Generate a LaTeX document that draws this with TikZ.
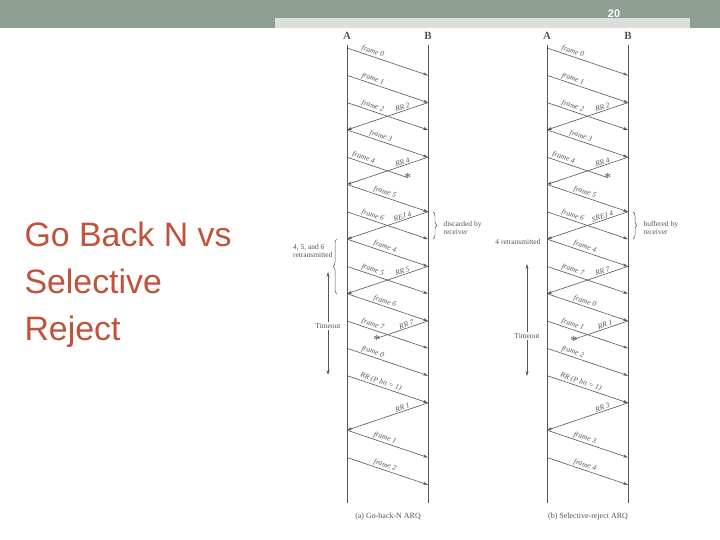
\documentclass[tikz,border=0pt]{standalone}
\usepackage{fontspec}
\setmainfont{Liberation Serif}
\newfontfamily\slidefont{Liberation Sans}
\usetikzlibrary{arrows.meta,decorations.pathreplacing,calc}
\definecolor{bar}{HTML}{8E9E92}
\definecolor{strip}{HTML}{DCE0DC}
\definecolor{ttl}{HTML}{C0533A}
\definecolor{ink}{HTML}{555555}
\tikzset{
  msg/.style={draw=ink,line width=0.6pt,-{Stealth[length=5pt,width=3pt]}},
  lost/.style={draw=ink,line width=0.6pt},
  lbl/.style={font=\fontsize{7.5}{8}\selectfont\itshape,text=ink,inner sep=1pt,sloped,above},
  ttext/.style={font=\fontsize{7.5}{8.5}\selectfont,text=ink,align=left},
  life/.style={draw=ink,line width=0.7pt},
  star/.style={font=\fontsize{14}{14}\selectfont,text=ink,inner sep=0pt},
  brc/.style={draw=ink,line width=0.5pt,decorate,decoration={brace,amplitude=4pt}},
  tarrow/.style={draw=ink,line width=0.6pt,{Stealth[length=5pt,width=3pt]}-{Stealth[length=5pt,width=3pt]}}
}
\begin{document}
\begin{tikzpicture}[x=1bp,y=-1bp]
\useasboundingbox (0,0) rectangle (720,540);
\fill[white] (0,0) rectangle (720,540);
\fill[bar] (0,0) rectangle (720,28);
\fill[strip] (275,18) rectangle (690,28);
\node[text=white,font=\slidefont\bfseries\fontsize{11}{12}\selectfont] (pg) at (614,14) {20};
\node[anchor=west,text=ttl,font=\slidefont\fontsize{34}{47}\selectfont,align=left] (title) at (21,285) {Go Back N vs\\Selective\\Reject};
% lifelines and slot coordinates
\foreach \p/\ax/\bx in {L/347/428,R/547/628}{
  \foreach \k in {0,...,16}{
    \coordinate (\p A\k) at (\ax,{48+27.3*\k});
    \coordinate (\p B\k) at (\bx,{48+27.3*\k});
  }
  \coordinate (\p At) at (\ax,45);
  \coordinate (\p Ae) at (\ax,503);
  \coordinate (\p Bt) at (\bx,45);
  \coordinate (\p Be) at (\bx,503);
  \draw[life] (\p At) -- (\p Ae);
  \draw[life] (\p Bt) -- (\p Be);
  \node[font=\bfseries\fontsize{11}{12}\selectfont,text=ink] (\p Alab) at (\ax,36) {A};
  \node[font=\bfseries\fontsize{11}{12}\selectfont,text=ink] (\p Blab) at (\bx,36) {B};
}
% ---------- left: Go-back-N ----------
\draw[msg] (LA0) -- (LB1) node[lbl,pos=0.3]{frame 0};
\draw[msg] (LA1) -- (LB2) node[lbl,pos=0.3]{frame 1};
\draw[msg] (LA2) -- (LB3) node[lbl,pos=0.3]{frame 2};
\draw[msg] (LB2) -- (LA3) node[lbl,pos=0.3]{RR 2};
\draw[msg] (LA3) -- (LB4) node[lbl,pos=0.4]{frame 3};
\coordinate (Ls1) at ($(LA4)!0.75!(LB5)$);
\draw[lost] (LA4) -- (Ls1) node[lbl,pos=0.25]{frame 4};
\node[star] (Lst1) at (Ls1) {*};
\draw[msg] (LB4) -- (LA5) node[lbl,pos=0.3]{RR 4};
\draw[msg] (LA5) -- (LB6) node[lbl,pos=0.45]{frame 5};
\draw[msg] (LA6) -- (LB7) node[lbl,pos=0.3]{frame 6};
\draw[msg] (LB6) -- (LA7) node[lbl,pos=0.3]{REJ 4};
\draw[msg] (LA7) -- (LB8) node[lbl,pos=0.45]{frame 4};
\draw[msg] (LA8) -- (LB9) node[lbl,pos=0.3]{frame 5};
\draw[msg] (LB8) -- (LA9) node[lbl,pos=0.3]{RR 5};
\draw[msg] (LA9) -- (LB10) node[lbl,pos=0.45]{frame 6};
\draw[msg] (LA10) -- (LB11) node[lbl,pos=0.3]{frame 7};
\coordinate (Ls2) at ($(LB10)!0.63!(LA11)$);
\draw[lost] (LB10) -- (Ls2) node[lbl,pos=0.4]{RR 7};
\node[star] (Lst2) at ($(Ls2)+(0,2)$) {*};
\draw[msg] (LA11) -- (LB12) node[lbl,pos=0.3]{frame 0};
\draw[msg] (LA12) -- (LB13) node[lbl,pos=0.4]{RR (P bit = 1)};
\draw[msg] (LB13) -- (LA14) node[lbl,pos=0.3]{RR 1};
\draw[msg] (LA14) -- (LB15) node[lbl,pos=0.45]{frame 1};
\draw[msg] (LA15) -- (LB16) node[lbl,pos=0.45]{frame 2};
\draw[brc] ($(LB6)+(5,0)$) coordinate (Lb1) -- ($(LB7)+(5,0)$) coordinate (Lb2);
\node[ttext,anchor=west] (Ldisc) at (440,228) {discarded by\\receiver};
\draw[brc] ($(LA9)+(-10,0)$) coordinate (Lb3) -- ($(LA7)+(-10,0)$) coordinate (Lb4);
\node[ttext,anchor=east,align=left] (Lret) at (336,251) {4, 5, and 6\\retransmitted};
\coordinate (Lt1) at (328,272);
\coordinate (Lt2) at (328,375);
\draw[tarrow] (Lt1) -- (Lt2);
\node[ttext,fill=white,inner sep=1pt] (Lto) at (328,326) {Timeout};
\node[font=\fontsize{8}{9}\selectfont,text=ink] (Lcap) at (388,517) {(a) Go-back-N ARQ};
% ---------- right: Selective reject ----------
\draw[msg] (RA0) -- (RB1) node[lbl,pos=0.3]{frame 0};
\draw[msg] (RA1) -- (RB2) node[lbl,pos=0.3]{frame 1};
\draw[msg] (RA2) -- (RB3) node[lbl,pos=0.3]{frame 2};
\draw[msg] (RB2) -- (RA3) node[lbl,pos=0.3]{RR 2};
\draw[msg] (RA3) -- (RB4) node[lbl,pos=0.4]{frame 3};
\coordinate (Rs1) at ($(RA4)!0.75!(RB5)$);
\draw[lost] (RA4) -- (Rs1) node[lbl,pos=0.25]{frame 4};
\node[star] (Rst1) at (Rs1) {*};
\draw[msg] (RB4) -- (RA5) node[lbl,pos=0.3]{RR 4};
\draw[msg] (RA5) -- (RB6) node[lbl,pos=0.45]{frame 5};
\draw[msg] (RA6) -- (RB7) node[lbl,pos=0.3]{frame 6};
\draw[msg] (RB6) -- (RA7) node[lbl,pos=0.3]{SREJ 4};
\draw[msg] (RA7) -- (RB8) node[lbl,pos=0.45]{frame 4};
\draw[msg] (RA8) -- (RB9) node[lbl,pos=0.3]{frame 7};
\draw[msg] (RB8) -- (RA9) node[lbl,pos=0.3]{RR 7};
\draw[msg] (RA9) -- (RB10) node[lbl,pos=0.45]{frame 0};
\draw[msg] (RA10) -- (RB11) node[lbl,pos=0.3]{frame 1};
\coordinate (Rs2) at ($(RB10)!0.67!(RA11)$);
\draw[lost] (RB10) -- (Rs2) node[lbl,pos=0.4]{RR 1};
\node[star] (Rst2) at ($(Rs2)+(0,2)$) {*};
\draw[msg] (RA11) -- (RB12) node[lbl,pos=0.3]{frame 2};
\draw[msg] (RA12) -- (RB13) node[lbl,pos=0.4]{RR (P bit = 1)};
\draw[msg] (RB13) -- (RA14) node[lbl,pos=0.3]{RR 3};
\draw[msg] (RA14) -- (RB15) node[lbl,pos=0.45]{frame 3};
\draw[msg] (RA15) -- (RB16) node[lbl,pos=0.45]{frame 4};
\draw[brc] ($(RB6)+(5,0)$) coordinate (Rb1) -- ($(RB7)+(5,0)$) coordinate (Rb2);
\node[ttext,anchor=west] (Rbuf) at (640,228) {buffered by\\receiver};
\node[ttext,anchor=east] (Rret) at (544,242) {4 retransmitted};
\coordinate (Rt1) at (527,264);
\coordinate (Rt2) at (527,376);
\draw[tarrow] (Rt1) -- (Rt2);
\node[ttext,fill=white,inner sep=1pt] (Rto) at (527,336) {Timeout};
\node[font=\fontsize{8}{9}\selectfont,text=ink] (Rcap) at (588,517) {(b) Selective-reject ARQ};
\end{tikzpicture}
\end{document}
